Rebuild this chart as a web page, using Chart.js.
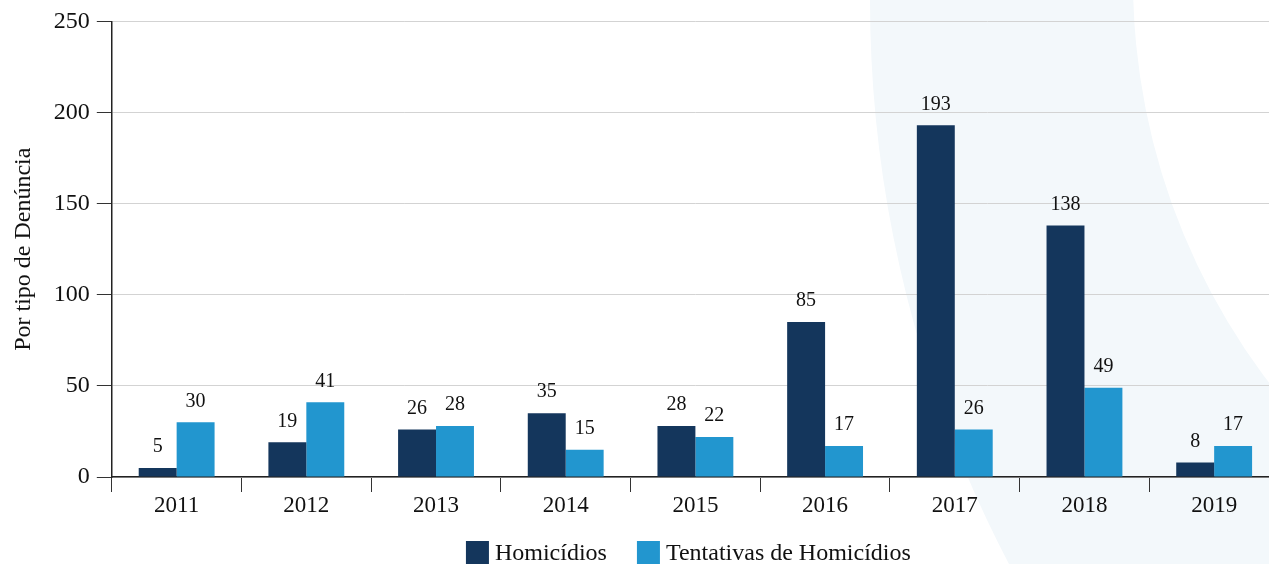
<!DOCTYPE html>
<html>
<head>
<meta charset="utf-8">
<script src="https://cdn.jsdelivr.net/npm/chart.js@4.4.1/dist/chart.umd.min.js"></script>
<style>
  html, body { margin: 0; padding: 0; background: #fff; overflow: hidden; }
  #wrap { width: 1282px; height: 564px; position: relative; }
</style>
</head>
<body>
<div id="wrap"><canvas id="denunciasChart"></canvas></div>
<script>
var anos = ['2011', '2012', '2013', '2014', '2015', '2016', '2017', '2018', '2019'];
var homicidios = [5, 19, 26, 35, 28, 85, 193, 138, 8];
var tentativas = [30, 41, 28, 15, 22, 17, 26, 49, 17];
var ticksY = [0, 50, 100, 150, 200, 250];

var fonte = '"Liberation Serif", "Times New Roman", serif';

// faixa curva clara do fundo
var fundoCurvo = {
    id: 'fundoCurvo',
    beforeDraw: function (chart) {
        var ctx = chart.ctx;
        ctx.save();
        ctx.beginPath();
        ctx.arc(2084, 0, 1214, 0, Math.PI * 2);
        ctx.arc(1797, -20, 664, 0, Math.PI * 2);
        ctx.fillStyle = '#f3f8fb';
        ctx.fill('evenodd');
        ctx.restore();
    }
};

// rotulos de valor em cima das barras
var rotulos = {
    id: 'rotulos',
    afterDatasetsDraw: function (chart) {
        var ctx = chart.ctx;
        ctx.save();
        ctx.font = '20px ' + fonte;
        ctx.fillStyle = '#111';
        ctx.textAlign = 'center';
        ctx.textBaseline = 'bottom';
        chart.data.datasets.forEach(function (ds, i) {
            chart.getDatasetMeta(i).data.forEach(function (bar, j) {
                ctx.fillText(ds.data[j], bar.x, bar.y - 11);
            });
        });
        ctx.restore();
    }
};

// legenda desenhada embaixo (espaco reservado pelo padding)
var legenda = {
    id: 'legenda',
    afterDraw: function (chart) {
        var ctx = chart.ctx;
        var caixa = 23, gapTexto = 6, gapItem = 30;
        ctx.save();
        ctx.font = '24px ' + fonte;
        var itens = chart.data.datasets.map(function (ds) {
            return { texto: ds.label, cor: ds.backgroundColor, w: ctx.measureText(ds.label).width };
        });
        var total = 0;
        itens.forEach(function (it, i) {
            total += caixa + gapTexto + it.w + (i > 0 ? gapItem : 0);
        });
        var meio = (chart.chartArea.left + chart.chartArea.right) / 2 - 7;
        var x = meio - total / 2;
        var topo = chart.height - caixa;
        ctx.textBaseline = 'middle';
        ctx.textAlign = 'left';
        itens.forEach(function (it) {
            ctx.fillStyle = it.cor;
            ctx.fillRect(x, topo, caixa, caixa);
            ctx.fillStyle = '#111';
            ctx.fillText(it.texto, x + caixa + gapTexto, topo + caixa / 2 + 1);
            x += caixa + gapTexto + it.w + gapItem;
        });
        ctx.restore();
    }
};

var ctx = document.getElementById('denunciasChart').getContext('2d');
var denunciasChart = new Chart(ctx, {
    type: 'bar',
    data: {
        labels: anos,
        datasets: [{
            label: 'Homicídios',
            backgroundColor: '#14365c',
            data: homicidios
        }, {
            label: 'Tentativas de Homicídios',
            backgroundColor: '#2296cf',
            data: tentativas
        }]
    },
    options: {
        responsive: true,
        maintainAspectRatio: false,
        animation: false,
        datasets: {
            bar: {
                barPercentage: 1,
                categoryPercentage: 0.585
            }
        },
        layout: {
            padding: { top: 13, right: 3, left: 9, bottom: 24 }
        },
        scales: {
            x: {
                grid: {
                    drawOnChartArea: false,
                    tickLength: 15,
                    tickColor: '#333'
                },
                border: { color: '#222', width: 1.5 },
                ticks: {
                    color: '#111',
                    font: { family: fonte, size: 23 },
                    padding: 0
                },
                afterFit: function (axis) {
                    axis.height = 63;
                }
            },
            y: {
                min: 0,
                max: 250,
                afterBuildTicks: function (axis) {
                    axis.ticks = ticksY.map(function (v) { return { value: v }; });
                },
                grid: {
                    color: '#d3d3d3',
                    tickLength: 15,
                    tickColor: '#333'
                },
                border: { color: '#222', width: 1.5 },
                ticks: {
                    color: '#111',
                    font: { family: fonte, size: 24 },
                    padding: 7
                },
                title: {
                    display: true,
                    text: 'Por tipo de Denúncia',
                    color: '#111',
                    font: { family: fonte, size: 24 },
                    padding: { top: 0, bottom: 9 }
                }
            }
        },
        plugins: {
            legend: { display: false },
            tooltip: { enabled: false }
        }
    },
    plugins: [fundoCurvo, rotulos, legenda]
});
</script>
</body>
</html>
